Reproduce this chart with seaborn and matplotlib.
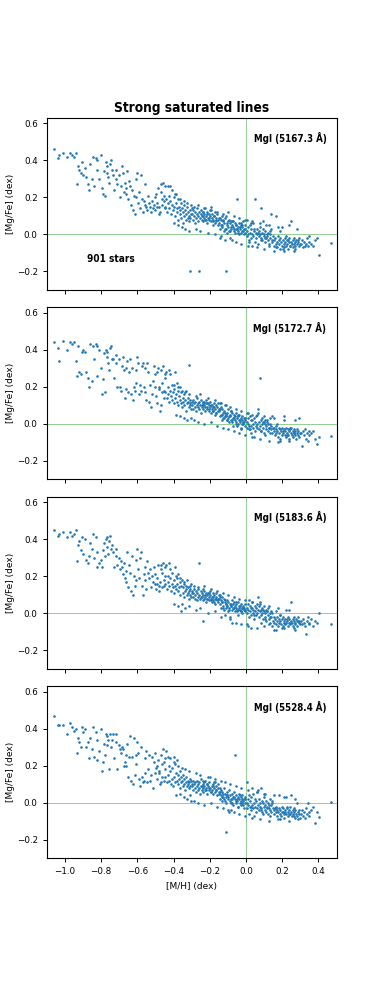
import matplotlib
matplotlib.use("Agg")
import matplotlib.pyplot as plt
import seaborn as sns

# [M/H] of the stars (shared by all four lines)
mh = [
    -1.058, -1.04, -1.03, -1.01, -0.99, -0.97, -0.96, -0.95, -0.94, -0.932, -0.93, -0.92, -0.91, -0.90, -0.905,
    -0.89, -0.885, -0.87, -0.865, -0.86, -0.85, -0.845, -0.84, -0.83, -0.825, -0.82, -0.81, -0.80, -0.795, -0.79,
    -0.785, -0.78, -0.775, -0.77, -0.765, -0.76, -0.755, -0.75, -0.745, -0.74,
    -0.735, -0.73, -0.72, -0.715, -0.71, -0.70, -0.695, -0.69, -0.685, -0.68, -0.675, -0.67, -0.665, -0.66, -0.655,
    -0.65, -0.645, -0.64, -0.635, -0.63, -0.625, -0.62, -0.615, -0.61, -0.60, -0.605, -0.595,
    -0.59, -0.585, -0.58, -0.575, -0.57, -0.565, -0.56, -0.555, -0.55, -0.545, -0.54, -0.535, -0.53, -0.525, -0.52,
    -0.515, -0.51, -0.505, -0.50, -0.495, -0.49, -0.485, -0.48, -0.475, -0.47, -0.465, -0.46, -0.455, -0.45, -0.448,
    -0.452, -0.462, -0.472, -0.482, -0.492,
    -0.445, -0.44, -0.437, -0.433, -0.43, -0.427, -0.423, -0.42, -0.417, -0.413, -0.41, -0.407, -0.403, -0.40, -0.397,
    -0.393, -0.39, -0.387, -0.383, -0.38, -0.377, -0.373, -0.37, -0.367, -0.363, -0.36, -0.357, -0.353, -0.35, -0.347,
    -0.343, -0.34, -0.337, -0.333, -0.33, -0.327, -0.323, -0.32, -0.317, -0.313, -0.311, -0.31, -0.307, -0.303, -0.30,
    -0.297, -0.293, -0.29, -0.287, -0.283, -0.28, -0.277, -0.273, -0.27, -0.267, -0.263, -0.259, -0.257, -0.253, -0.25,
    -0.247, -0.243, -0.24, -0.239, -0.237, -0.233, -0.23, -0.227, -0.223, -0.22, -0.217, -0.213, -0.21, -0.207, -0.203,
    -0.20, -0.197, -0.193, -0.19, -0.187, -0.183, -0.18, -0.177, -0.173, -0.17, -0.167, -0.163, -0.16, -0.157, -0.153,
    -0.15, -0.245, -0.235, -0.225, -0.215, -0.205, -0.195, -0.185, -0.175, -0.165,
    -0.147, -0.143, -0.14, -0.137, -0.133, -0.13, -0.127, -0.123, -0.12, -0.117, -0.113, -0.109, -0.107, -0.103, -0.10,
    -0.097, -0.093, -0.09, -0.087, -0.083, -0.08, -0.077, -0.073, -0.07, -0.067, -0.063, -0.061, -0.057, -0.053, -0.05,
    -0.047, -0.043, -0.04, -0.037, -0.033, -0.03, -0.027, -0.023, -0.02, -0.017, -0.013, -0.01, -0.007, -0.003, -0.145,
    -0.135, -0.125, -0.115, -0.105, -0.095, -0.085, -0.075, -0.065, -0.055, -0.045, -0.035, -0.025, -0.015, -0.005, -0.142,
    -0.112, -0.082, -0.052, -0.022,
    0.003, 0.007, 0.01, 0.013, 0.017, 0.02, 0.023, 0.027, 0.03, 0.033, 0.037, 0.04, 0.043, 0.047, 0.051,
    0.053, 0.057, 0.06, 0.063, 0.067, 0.07, 0.073, 0.075, 0.077, 0.08, 0.083, 0.087, 0.09, 0.093, 0.097,
    0.10, 0.103, 0.107, 0.11, 0.113, 0.117, 0.12, 0.123, 0.127, 0.13, 0.133, 0.137, 0.14, 0.143, 0.147,
    0.005, 0.015, 0.025, 0.035, 0.045, 0.065, 0.085, 0.095, 0.105, 0.115, 0.125, 0.135, 0.145,
    0.153, 0.157, 0.16, 0.163, 0.167, 0.17, 0.173, 0.177, 0.18, 0.183, 0.187, 0.19, 0.193, 0.197, 0.20,
    0.203, 0.207, 0.21, 0.213, 0.217, 0.22, 0.223, 0.227, 0.23, 0.233, 0.237, 0.24, 0.243, 0.247, 0.25,
    0.253, 0.257, 0.26, 0.263, 0.267, 0.27, 0.273, 0.277, 0.28, 0.283, 0.287, 0.29, 0.293, 0.297, 0.165,
    0.185, 0.205, 0.225, 0.245, 0.265, 0.285,
    0.303, 0.31, 0.315, 0.32, 0.325, 0.331, 0.335, 0.34, 0.345, 0.35, 0.36, 0.37, 0.38, 0.39, 0.404, 0.47,
    # stars on the upper / lower edge of the dense band
    -0.395, -0.385, -0.375, -0.365, -0.355, -0.345, -0.335, -0.325, -0.315, -0.305,
    -0.285, -0.275, -0.265, -0.255, -0.232, -0.212, -0.192, -0.172, -0.158, -0.138,
    -0.128, -0.118, -0.098, -0.088, -0.068, -0.058, -0.038, -0.028, -0.008, 0.012,
    0.032, 0.058, 0.078, 0.102, 0.128, 0.152, 0.178, 0.212, 0.238, 0.268,
]

mgfe_5167 = [
    0.46, 0.41, 0.43, 0.44, 0.42, 0.44, 0.43, 0.42, 0.44, 0.27, 0.37, 0.35, 0.33, 0.32, 0.39,
    0.36, 0.31, 0.27, 0.24, 0.38, 0.30, 0.42, 0.26, 0.41, 0.35, 0.40, 0.30, 0.43, 0.25, 0.22,
    0.34, 0.21, 0.39, 0.33, 0.37, 0.31, 0.28, 0.38, 0.40, 0.35,
    0.32, 0.24, 0.35, 0.30, 0.27, 0.32, 0.20, 0.26, 0.37, 0.33, 0.23, 0.28, 0.25, 0.22, 0.34,
    0.19, 0.29, 0.26, 0.16, 0.24, 0.13, 0.21, 0.11, 0.30, 0.33, 0.20, 0.17,
    0.23, 0.14, 0.32, 0.19, 0.12, 0.18, 0.27, 0.16, 0.15, 0.13, 0.21, 0.17, 0.15, 0.12, 0.18,
    0.14, 0.16, 0.20, 0.13, 0.22, 0.17, 0.25, 0.15, 0.12, 0.23, 0.16, 0.28, 0.18, 0.14, 0.26,
    0.21, 0.19, 0.27, 0.11, 0.15,
    0.15, 0.19, 0.12, 0.26, 0.17, 0.21, 0.14, 0.26, 0.18, 0.11, 0.24, 0.16, 0.13, 0.20, 0.15,
    0.22, 0.10, 0.17, 0.14, 0.12, 0.19, 0.08, 0.15, 0.13, 0.11, 0.17, 0.09, 0.14, 0.12, 0.06,
    0.16, 0.10, 0.13, 0.08, 0.11, 0.15, 0.09, 0.12, 0.10, 0.07, -0.20, 0.13, 0.09, 0.11, 0.14,
    0.11, 0.08, 0.13, 0.10, 0.06, 0.12, 0.09, 0.14, 0.11, 0.07, 0.10, -0.20, 0.12, 0.09, 0.11,
    0.13, 0.08, 0.10, 0.12, 0.07, 0.11, 0.09, 0.14, 0.08, 0.10, 0.12, 0.06, 0.09, 0.11, 0.08,
    0.10, 0.13, 0.07, 0.09, 0.11, 0.05, 0.08, 0.10, 0.12, 0.06, 0.09, 0.07, 0.11, 0.08, 0.05,
    0.09, 0.10, 0.12, 0.08, 0.11, 0.09, 0.13, 0.07, 0.10, 0.08,
    0.06, 0.03, 0.08, 0.05, 0.10, 0.04, 0.07, 0.02, 0.06, 0.09, 0.03, -0.20, 0.05, 0.01, 0.07,
    0.04, 0.08, 0.02, 0.06, 0.03, 0.05, -0.03, 0.07, 0.04, 0.02, 0.06, 0.01, 0.05, 0.03, 0.19,
    0.04, 0.02, 0.06, 0.00, 0.03, 0.05, 0.01, 0.04, 0.02, 0.07, 0.00, 0.03, 0.05, 0.01, 0.09,
    0.05, 0.08, 0.03, 0.06, 0.02, 0.04, 0.07, 0.03, 0.05, 0.01, 0.04, 0.06, 0.02, 0.03, -0.02,
    0.10, 0.07, 0.03, 0.05,
    0.02, -0.01, 0.04, 0.00, -0.03, 0.05, 0.01, -0.02, 0.03, 0.00, 0.06, -0.01, 0.02, -0.04, 0.19,
    0.01, -0.02, 0.03, 0.00, -0.05, 0.02, -0.01, 0.04, 0.00, 0.14, -0.02, 0.01, -0.03, 0.03, -0.01,
    0.00, -0.04, 0.02, -0.02, 0.05, -0.01, -0.03, 0.01, -0.05, 0.00, -0.02, 0.03, 0.11, -0.04, -0.01,
    0.08, -0.04, 0.06, -0.06, 0.03, 0.01, -0.03, 0.07, -0.02, 0.00, -0.06, 0.02, -0.03,
    -0.03, -0.06, -0.02, -0.05, 0.10, -0.04, -0.07, -0.01, -0.05, -0.03, -0.08, -0.02, -0.04, -0.06, 0.04,
    -0.03, -0.05, -0.07, -0.02, -0.04, -0.06, -0.01, -0.05, -0.03, -0.08, -0.04, -0.02, -0.06, 0.07, -0.04,
    -0.05, -0.03, -0.07, -0.02, -0.05, -0.04, -0.06, -0.03, -0.05, 0.03, -0.04, -0.06, -0.02, -0.05, -0.07,
    0.02, -0.08, -0.03, -0.06, -0.09, -0.03,
    -0.05, -0.03, -0.07, -0.04, -0.06, -0.05, -0.02, -0.06, -0.04, -0.01, -0.05, -0.06, -0.03, -0.02, -0.11, -0.045,
    0.06, 0.22, 0.05, 0.19, 0.04, 0.18, 0.03, 0.17, 0.02, 0.16,
    0.15, 0.03, 0.16, 0.02, 0.14, 0.01, 0.15, 0.00, 0.12, -0.01,
    0.11, -0.03, 0.12, -0.02, 0.10, -0.04, 0.09, -0.05, 0.08, -0.06,
    0.07, -0.07, 0.06, -0.08, 0.05, -0.09, 0.04, -0.09, 0.05, -0.08,
]

mgfe_5172 = [
    0.44, 0.41, 0.34, 0.45, 0.40, 0.44, 0.43, 0.44, 0.34, 0.26, 0.42, 0.28, 0.27, 0.40, 0.39,
    0.39, 0.28, 0.25, 0.20, 0.43, 0.23, 0.42, 0.35, 0.43, 0.26, 0.42, 0.40, 0.30, 0.16, 0.24,
    0.38, 0.17, 0.40, 0.39, 0.36, 0.33, 0.29, 0.41, 0.42, 0.35,
    0.35, 0.25, 0.33, 0.37, 0.20, 0.35, 0.20, 0.18, 0.31, 0.36, 0.29, 0.14, 0.19, 0.30, 0.34,
    0.17, 0.28, 0.35, 0.16, 0.30, 0.13, 0.20, 0.18, 0.29, 0.36, 0.22, 0.33,
    0.16, 0.21, 0.18, 0.31, 0.33, 0.20, 0.30, 0.17, 0.13, 0.33, 0.28, 0.12, 0.21, 0.09, 0.16,
    0.23, 0.31, 0.20, 0.27, 0.15, 0.11, 0.30, 0.19, 0.07, 0.29, 0.17, 0.31, 0.14, 0.25, 0.27,
    0.18, 0.22, 0.10, 0.20, 0.28,
    0.17, 0.28, 0.14, 0.20, 0.16, 0.29, 0.12, 0.27, 0.18, 0.15, 0.21, 0.13, 0.17, 0.19, 0.11,
    0.28, 0.14, 0.16, 0.22, 0.12, 0.18, 0.10, 0.15, 0.20, 0.13, 0.11, 0.17, 0.09, 0.14, 0.12,
    0.16, 0.10, 0.13, 0.18, 0.07, 0.11, 0.14, 0.12, 0.09, 0.32, 0.10, 0.13, 0.11, 0.08, 0.12,
    0.10, 0.13, 0.08, 0.11, 0.09, 0.12, 0.07, 0.10, 0.14, 0.09, 0.11, 0.08, 0.12, 0.10, 0.06,
    0.13, 0.09, 0.11, 0.10, 0.08, 0.12, 0.10, 0.07, 0.11, 0.13, 0.09, 0.08, 0.11, 0.07, 0.10,
    0.09, 0.12, 0.06, 0.08, 0.10, 0.07, 0.09, 0.11, 0.05, 0.08, 0.10, 0.06, 0.09, 0.07, 0.11,
    0.08, 0.10, 0.12, 0.09, 0.11, 0.08, 0.10, 0.07, 0.09, 0.06,
    0.07, 0.04, 0.09, 0.05, 0.02, 0.08, 0.06, 0.03, 0.07, 0.04, 0.10, 0.05, 0.02, 0.06, 0.03,
    0.08, 0.01, 0.05, 0.04, 0.07, 0.02, 0.06, 0.03, -0.01, 0.05, 0.02, 0.04, 0.01, 0.06, 0.03,
    0.00, 0.04, 0.02, 0.05, 0.01, 0.03, -0.02, 0.02, 0.04, 0.00, 0.03, 0.01, -0.01, 0.02, 0.08,
    0.05, 0.03, 0.06, 0.02, 0.04, 0.07, 0.01, 0.03, 0.00, 0.05, 0.02, -0.03, 0.01, 0.03, 0.11,
    0.04, 0.02, -0.01, 0.00,
    0.01, -0.02, 0.03, 0.00, -0.01, 0.04, -0.03, 0.02, -0.01, 0.05, 0.00, -0.02, 0.03, -0.04, 0.01,
    -0.01, 0.04, -0.02, 0.00, 0.06, -0.03, 0.01, 0.25, -0.01, 0.02, -0.04, 0.00, 0.03, -0.02, 0.01,
    -0.05, 0.00, 0.02, -0.03, -0.01, 0.01, -0.04, 0.00, -0.02, 0.03, -0.05, -0.01, -0.03, 0.04, -0.02,
    0.06, -0.03, -0.05, 0.02, -0.07, 0.08, -0.04, 0.01, -0.06, 0.02, -0.02, 0.00, -0.05,
    -0.04, -0.02, -0.06, -0.03, -0.05, 0.00, -0.04, -0.07, -0.02, -0.05, -0.03, -0.09, -0.04, -0.06, -0.02,
    -0.05, 0.04, -0.03, -0.06, -0.04, -0.07, -0.02, -0.05, -0.03, -0.06, -0.04, -0.08, -0.03, -0.05, -0.02,
    -0.06, -0.04, -0.07, -0.03, -0.05, -0.04, -0.06, -0.08, -0.03, -0.05, -0.04, -0.07, 0.03, -0.05, -0.01,
    -0.08, -0.04, -0.06, -0.02, -0.05, -0.06,
    -0.05, -0.12, -0.04, -0.06, -0.03, -0.08, -0.05, -0.09, -0.04, -0.06, -0.05, -0.04, -0.08, -0.11, -0.07, -0.065,
    0.21, 0.05, 0.20, 0.04, 0.18, 0.03, 0.17, 0.02, 0.16, 0.03,
    0.02, 0.15, 0.01, 0.16, 0.00, 0.14, 0.01, 0.13, -0.01, 0.11,
    -0.02, 0.10, -0.03, 0.09, -0.04, 0.08, -0.05, 0.07, -0.06, 0.06,
    -0.07, 0.05, -0.08, 0.04, -0.09, 0.03, -0.10, 0.02, -0.09, 0.02,
]

mgfe_5183 = [
    0.45, 0.42, 0.43, 0.44, 0.41, 0.44, 0.42, 0.43, 0.45, 0.28, 0.37, 0.39, 0.34, 0.32, 0.41,
    0.40, 0.29, 0.27, 0.31, 0.38, 0.35, 0.43, 0.30, 0.41, 0.25, 0.33, 0.27, 0.29, 0.25, 0.34,
    0.38, 0.31, 0.40, 0.41, 0.36, 0.32, 0.39, 0.42, 0.35, 0.37,
    0.33, 0.25, 0.31, 0.35, 0.26, 0.30, 0.24, 0.28, 0.25, 0.21, 0.27, 0.19, 0.23, 0.17, 0.33,
    0.14, 0.26, 0.22, 0.12, 0.31, 0.10, 0.20, 0.15, 0.29, 0.35, 0.18, 0.24,
    0.19, 0.30, 0.33, 0.15, 0.10, 0.21, 0.18, 0.25, 0.13, 0.28, 0.22, 0.19, 0.24, 0.14, 0.20,
    0.17, 0.25, 0.16, 0.21, 0.13, 0.19, 0.26, 0.15, 0.17, 0.24, 0.14, 0.27, 0.18, 0.20, 0.25,
    0.15, 0.22, 0.26, 0.12, 0.16,
    0.16, 0.26, 0.13, 0.20, 0.17, 0.27, 0.15, 0.24, 0.19, 0.12, 0.16, 0.22, 0.14, 0.18, 0.11,
    0.25, 0.15, 0.13, 0.19, 0.16, 0.21, 0.12, 0.14, 0.17, 0.10, 0.15, 0.01, 0.18, 0.11, 0.14,
    0.16, 0.09, 0.12, 0.15, 0.13, 0.10, 0.14, 0.11, 0.08, 0.12, 0.15, 0.10, 0.13, 0.09, 0.11,
    0.12, 0.09, 0.11, 0.13, 0.08, 0.10, 0.12, 0.07, 0.11, 0.09, 0.13, 0.27, 0.10, 0.08, 0.12,
    0.09, 0.11, 0.07, -0.04, 0.10, 0.08, 0.12, 0.09, 0.11, 0.06, 0.10, 0.08, 0.11, 0.09, 0.07,
    0.10, 0.12, 0.08, 0.06, 0.09, 0.11, 0.07, 0.10, 0.08, 0.05, 0.09, 0.11, 0.07, 0.08, 0.06,
    0.10, 0.09, 0.13, 0.10, 0.08, 0.11, 0.07, 0.09, 0.06, 0.08,
    0.08, 0.05, 0.07, 0.03, 0.09, 0.06, 0.04, 0.08, 0.02, 0.06, 0.05, 0.03, 0.07, 0.04, 0.01,
    0.06, 0.03, 0.05, -0.02, 0.04, 0.07, 0.02, 0.05, 0.03, 0.06, 0.01, 0.04, 0.03, 0.05, 0.02,
    0.06, -0.01, 0.03, 0.04, 0.02, 0.05, 0.01, 0.03, 0.00, 0.04, 0.02, 0.03, 0.01, 0.05, 0.10,
    0.06, 0.03, 0.07, 0.04, 0.02, 0.05, -0.05, 0.03, 0.06, 0.02, 0.04, 0.01, 0.03, 0.02, 0.09,
    0.05, 0.04, 0.01, 0.03,
    0.03, 0.00, 0.05, 0.02, -0.02, 0.04, 0.01, -0.01, 0.03, 0.06, 0.00, 0.02, -0.03, 0.04, 0.01,
    -0.01, 0.03, 0.05, 0.00, 0.02, -0.02, 0.04, 0.01, 0.06, -0.01, 0.02, 0.00, 0.03, -0.03, 0.01,
    0.04, -0.02, 0.00, 0.02, -0.04, 0.01, -0.01, 0.03, -0.03, 0.00, -0.05, 0.01, -0.02, 0.00, -0.04,
    -0.06, 0.07, -0.08, 0.03, -0.01, 0.09, -0.05, 0.02, -0.03, 0.01, -0.06, -0.02, -0.07,
    -0.02, -0.05, -0.03, 0.01, -0.06, -0.04, -0.02, -0.07, -0.03, -0.05, -0.01, -0.04, -0.06, -0.03, -0.08,
    -0.02, -0.05, -0.04, -0.06, -0.03, 0.02, -0.05, -0.04, -0.07, -0.02, -0.05, -0.03, -0.06, 0.06, -0.04,
    -0.05, -0.03, -0.07, -0.04, -0.02, -0.05, -0.06, -0.03, -0.04, -0.07, -0.02, -0.05, -0.04, -0.06, -0.09,
    -0.01, -0.07, -0.03, -0.05, -0.08, -0.04,
    -0.04, -0.06, -0.03, -0.05, -0.07, -0.11, -0.04, -0.02, -0.06, -0.05, -0.03, -0.07, -0.04, -0.05, 0.00, -0.058,
    0.05, 0.20, 0.04, 0.19, 0.05, 0.17, 0.03, 0.18, 0.04, 0.16,
    0.15, 0.02, 0.14, 0.03, 0.15, 0.00, 0.13, 0.01, 0.12, -0.02,
    0.11, -0.01, 0.10, -0.03, 0.09, -0.05, 0.08, -0.06, 0.07, -0.07,
    0.06, -0.08, 0.05, -0.07, 0.04, -0.09, 0.03, -0.08, 0.02, -0.09,
]

mgfe_5528 = [
    0.47, 0.42, 0.42, 0.42, 0.37, 0.43, 0.41, 0.39, 0.40, 0.27, 0.35, 0.33, 0.30, 0.38, 0.41,
    0.40, 0.30, 0.33, 0.24, 0.35, 0.29, 0.41, 0.25, 0.38, 0.23, 0.34, 0.28, 0.40, 0.17, 0.22,
    0.32, 0.26, 0.37, 0.31, 0.36, 0.34, 0.18, 0.37, 0.30, 0.34,
    0.37, 0.24, 0.37, 0.33, 0.18, 0.31, 0.29, 0.27, 0.30, 0.29, 0.20, 0.22, 0.26, 0.20, 0.32,
    0.14, 0.25, 0.36, 0.12, 0.25, 0.10, 0.35, 0.15, 0.26, 0.33, 0.21, 0.27,
    0.13, 0.09, 0.30, 0.14, 0.11, 0.12, 0.24, 0.16, 0.28, 0.11, 0.18, 0.26, 0.12, 0.15, 0.25,
    0.08, 0.22, 0.16, 0.27, 0.19, 0.13, 0.23, 0.16, 0.10, 0.26, 0.14, 0.29, 0.22, 0.18, 0.24,
    0.12, 0.21, 0.11, 0.17, 0.20,
    0.14, 0.28, 0.11, 0.25, 0.15, 0.20, 0.12, 0.17, 0.24, 0.10, 0.13, 0.19, 0.09, 0.25, 0.14,
    0.21, 0.11, 0.16, 0.23, 0.12, 0.15, 0.10, 0.13, 0.17, 0.08, 0.14, 0.11, 0.12, 0.09, 0.15,
    0.10, 0.13, 0.07, 0.11, 0.14, 0.09, 0.12, 0.10, 0.08, 0.11, 0.04, 0.13, 0.09, 0.12, 0.10,
    0.09, 0.12, 0.07, 0.10, 0.08, 0.11, 0.06, 0.09, 0.12, 0.07, 0.10, 0.08, 0.11, 0.05, 0.09,
    0.13, 0.07, 0.10, 0.08, 0.06, 0.11, 0.09, 0.12, 0.07, 0.08, 0.10, 0.05, 0.09, 0.07, 0.11,
    0.08, 0.14, 0.06, 0.09, 0.07, 0.10, 0.05, 0.08, 0.11, 0.06, 0.09, 0.07, 0.04, 0.08, 0.10,
    0.06, 0.09, 0.12, 0.07, 0.10, 0.08, 0.06, 0.09, 0.11, 0.07,
    0.05, 0.02, 0.07, 0.04, 0.01, 0.06, 0.03, 0.08, 0.02, 0.05, 0.00, -0.16, 0.04, 0.06, 0.02,
    0.03, 0.07, 0.01, 0.04, 0.00, 0.05, 0.02, 0.03, -0.01, 0.06, 0.02, 0.26, 0.00, 0.04, 0.01,
    0.03, -0.02, 0.02, 0.05, 0.00, 0.03, -0.01, 0.02, 0.04, 0.01, -0.03, 0.02, 0.00, 0.03, 0.06,
    0.03, 0.05, 0.01, 0.04, -0.05, 0.02, 0.00, 0.03, 0.01, -0.02, 0.04, 0.01, -0.01, 0.02, 0.08,
    0.03, -0.04, 0.02, 0.00,
    0.00, -0.03, 0.02, -0.01, 0.04, -0.02, 0.01, -0.04, 0.03, -0.01, 0.05, -0.03, 0.00, -0.02, 0.02,
    -0.05, 0.01, -0.03, 0.06, -0.01, -0.04, 0.02, 0.00, -0.02, 0.08, -0.03, 0.01, -0.05, 0.00, -0.02,
    0.03, -0.04, -0.01, 0.01, -0.05, -0.02, 0.00, -0.06, -0.03, 0.02, -0.04, -0.01, -0.05, 0.01, -0.03,
    0.11, -0.06, -0.02, 0.08, -0.07, 0.07, -0.04, -0.06, 0.05, -0.03, -0.01, -0.07, 0.00,
    -0.04, -0.06, -0.03, -0.05, -0.02, -0.07, -0.04, -0.05, 0.04, -0.03, -0.06, -0.04, -0.07, -0.02, -0.05,
    -0.03, -0.06, -0.08, -0.04, -0.05, 0.03, -0.06, -0.03, -0.07, -0.05, -0.04, -0.06, -0.02, -0.05, 0.04,
    -0.07, -0.04, -0.06, -0.03, -0.05, -0.08, -0.04, -0.06, -0.07, 0.00, -0.05, -0.06, -0.04, -0.08, -0.03,
    -0.09, -0.05, -0.02, -0.06, -0.07, -0.09,
    -0.06, -0.04, -0.07, -0.05, -0.08, -0.03, -0.06, 0.00, -0.05, -0.07, -0.04, -0.02, -0.11, -0.05, -0.075, 0.005,
    0.22, 0.04, 0.20, 0.05, 0.19, 0.03, 0.18, 0.02, 0.17, 0.01,
    0.01, 0.16, 0.00, 0.15, -0.01, 0.14, 0.00, 0.13, -0.02, 0.12,
    -0.03, 0.11, -0.04, 0.10, -0.05, 0.09, -0.06, 0.08, -0.07, 0.07,
    -0.08, 0.06, -0.09, 0.05, -0.10, 0.04, -0.09, 0.03, -0.10, 0.02,
]

line_labels = ["MgI (5167.3 Å)", "MgI (5172.7 Å)", "MgI (5183.6 Å)", "MgI (5528.4 Å)"]
n_stars = 901
x_ticks = [-1.0, -0.8, -0.6, -0.4, -0.2, 0.0, 0.2, 0.4]

series = [mgfe_5167, mgfe_5172, mgfe_5183, mgfe_5528]
for s in series:
    assert len(s) == len(mh), (len(s), len(mh))

# bold labels are in a condensed sans face
cond = dict(family=["DejaVu Sans Condensed", "DejaVu Sans"], fontstretch="condensed",
            fontweight="bold")

fig, axes = plt.subplots(4, 1, figsize=(3.74, 9.81), dpi=100, sharex=True)
fig.subplots_adjust(left=0.125, right=0.9, top=0.88, bottom=0.125, hspace=0.1)

for ax, yvals, lab in zip(axes, series, line_labels):
    sns.scatterplot(x=mh, y=yvals, ax=ax, s=3.5, color="#1f77b4", linewidth=0)
    ax.axhline(0, color="#2ca02c", lw=0.6, alpha=0.6, zorder=0)
    ax.axvline(0, color="#2ca02c", lw=0.6, alpha=0.6, zorder=0)
    ax.set_xlim(-1.1, 0.5)
    ax.set_ylim(-0.3, 0.63)
    ax.set_xticks(x_ticks)
    ax.set_yticks([-0.2, 0.0, 0.2, 0.4, 0.6])
    ax.tick_params(labelsize=6.3, length=3, width=0.7)
    ax.set_ylabel("[Mg/Fe] (dex)", fontsize=6.5, labelpad=1.5)
    ax.text(0.965, 0.88, lab, transform=ax.transAxes, ha="right", va="center",
            fontsize=7, **cond)
    for sp in ax.spines.values():
        sp.set_linewidth(0.8)

axes[0].set_title("Strong saturated lines", fontsize=9.8, pad=4, **cond)
axes[0].text(-0.88, -0.135, f"{n_stars} stars", ha="left", va="center",
             fontsize=7.2, **cond)
axes[-1].set_xlabel("[M/H] (dex)", fontsize=6.5)

fig.savefig("out.png", dpi=100)
